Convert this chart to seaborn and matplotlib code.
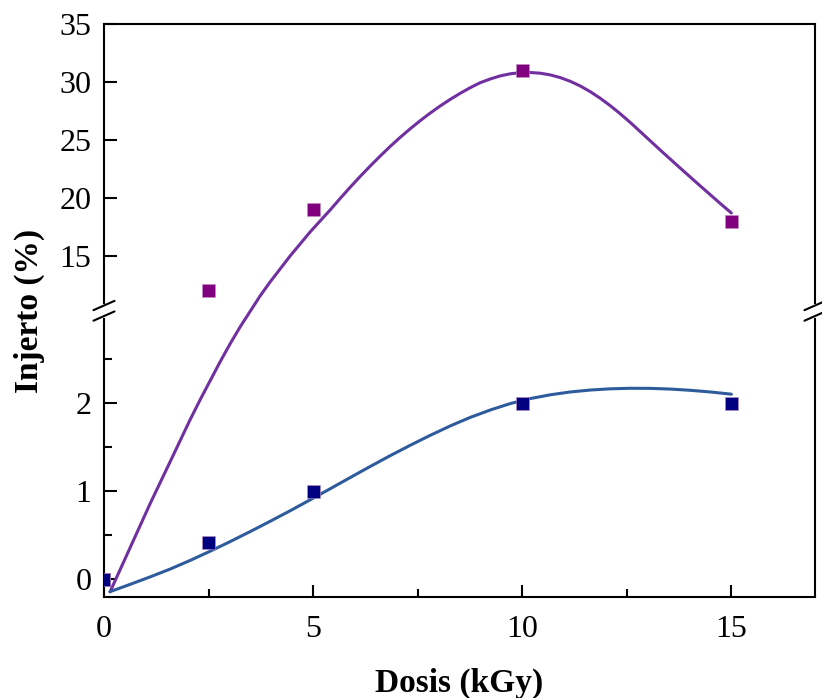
import numpy as np
import pandas as pd
import matplotlib
matplotlib.use("Agg")
import matplotlib.pyplot as plt
import seaborn as sns

# measured points
dose = [0, 2.5, 5, 10, 15]
graft_purple = [0, 12, 19, 31, 18]
graft_blue = [0, 0.42, 1.0, 2.0, 2.0]

# fitted curves
curve_purple_x = [0.144, 0.383, 0.622, 0.861, 1.100, 1.340, 1.579, 1.818, 2.057, 2.297, 2.536,
                  2.775, 3.014, 3.254, 3.732, 3.971, 4.211, 4.450, 4.689, 4.928, 5.167, 5.407,
                  5.646, 5.885, 6.124, 6.364, 6.603, 6.842, 7.081, 7.321, 7.560, 7.799, 8.038,
                  8.278, 8.517, 8.756, 8.995, 9.234, 9.474, 9.713, 9.952, 10.191, 10.431, 10.670,
                  10.909, 11.148, 11.388, 11.627, 11.866, 12.105, 12.344, 12.584, 12.823, 13.062,
                  13.301, 13.541, 13.780, 14.019, 14.258, 14.498, 14.737, 15.0]
curve_purple_y = [-0.142, 0.108, 0.358, 0.608, 0.858, 1.097, 1.335, 1.574, 1.813, 2.040, 2.256,
                  2.472, 2.676, 2.869, 11.552, 12.759, 13.879, 15.000, 16.034, 17.069, 18.017,
                  18.966, 19.957, 20.922, 21.853, 22.750, 23.612, 24.440, 25.224, 25.966, 26.664,
                  27.319, 27.931, 28.500, 29.026, 29.509, 29.940, 30.259, 30.526, 30.707, 30.802,
                  30.819, 30.759, 30.612, 30.379, 30.060, 29.655, 29.164, 28.595, 27.957, 27.259,
                  26.509, 25.716, 24.922, 24.129, 23.345, 22.569, 21.802, 21.034, 20.276, 19.517,
                  18.707]
curve_blue_x = [0.144, 0.622, 1.100, 1.579, 2.057, 2.536, 3.014, 3.493, 3.971, 4.450, 4.928, 5.407,
                5.885, 6.364, 6.842, 7.321, 7.799, 8.278, 8.756, 9.234, 9.713, 10.191, 10.670,
                11.148, 11.627, 12.105, 12.584, 13.062, 13.541, 14.019, 14.498, 15.0]
curve_blue_y = [-0.139, -0.057, 0.028, 0.117, 0.215, 0.320, 0.429, 0.543, 0.660, 0.780, 0.904,
                1.030, 1.157, 1.283, 1.406, 1.524, 1.637, 1.744, 1.841, 1.925, 1.998, 2.055,
                2.098, 2.130, 2.152, 2.166, 2.172, 2.171, 2.163, 2.149, 2.130, 2.105]

pts = pd.DataFrame({"Dosis": dose * 2,
                    "Injerto": graft_purple + graft_blue,
                    "serie": ["p"] * 5 + ["b"] * 5})
fit_p = pd.DataFrame({"Dosis": curve_purple_x, "Injerto": curve_purple_y})
fit_b = pd.DataFrame({"Dosis": curve_blue_x, "Injerto": curve_blue_y})

# broken y axis: 0..3 stretched, 10..35 compressed
L, U = 3.05, 10.26
k = 11.6 / 88
eps = 1e-4
Lt = L + (U - L) * eps


def fwd(y):
    y = np.asarray(y, dtype=float)
    return np.where(y <= L, y, np.where(y >= U, Lt + (y - U) * k, L + (y - L) * eps))


def inv(d):
    d = np.asarray(d, dtype=float)
    return np.where(d <= L, d, np.where(d >= Lt, U + (d - Lt) / k, L + (d - L) / eps))


sns.set_style("ticks", {"axes.edgecolor": "black", "text.color": "black",
                        "axes.labelcolor": "black", "xtick.color": "black",
                        "ytick.color": "black"})
plt.rcParams["font.family"] = ["Liberation Serif", "DejaVu Serif"]

fig = plt.figure(figsize=(8.22, 6.98), dpi=100)
ax = fig.add_axes([104 / 822, 1 - 597 / 698, 711 / 822, 573 / 698])
ax.set_yscale("function", functions=(fwd, inv))

sns.lineplot(data=fit_p, x="Dosis", y="Injerto", sort=False, estimator=None,
             color="#7030A0", lw=2.2, ax=ax)
sns.lineplot(data=fit_b, x="Dosis", y="Injerto", sort=False, estimator=None,
             color="#2E5B9C", lw=2.2, ax=ax)
sns.scatterplot(data=pts, x="Dosis", y="Injerto", hue="serie",
                palette={"p": "#800080", "b": "#000080"}, marker="s", s=85,
                linewidth=0.4, edgecolor="#C090C0", legend=False, ax=ax, zorder=3)

ax.set_xlim(0, 17)
ax.set_ylim(-0.2, 35)
ax.set_xticks([0, 5, 10, 15])
ax.set_xticks([2.5, 7.5, 12.5], minor=True)
ax.set_yticks([0, 1, 2, 15, 20, 25, 30, 35])
ax.set_yticks([0.5, 1.5, 2.5], minor=True)
ax.tick_params(which="both", direction="in", labelsize=23, width=1.5,
               top=False, right=False)
ax.tick_params(which="major", length=9)
ax.tick_params(which="minor", length=5.5)
ax.tick_params(axis="x", pad=13)
ax.tick_params(axis="y", pad=9)
for s in ax.spines.values():
    s.set_linewidth(1.5)

ax.set_xlabel("Dosis (kGy)", fontsize=24, fontweight="bold")
ax.set_ylabel("Injerto (%)", fontsize=24, fontweight="bold")
ax.xaxis.set_label_coords(0.5, -0.123)
ax.yaxis.set_label_coords(-0.083, 0.5)

# break marks on both vertical spines
yb = 0.4995
dx, dy, gap = 0.0148, 0.0081, 0.0092
for xs in (0, 1):
    ax.plot([xs, xs], [yb - gap, yb + gap], transform=ax.transAxes, color="white",
            lw=3, clip_on=False, zorder=5)
    for off in (-gap, gap):
        ax.plot([xs - dx, xs + dx], [yb + off - dy, yb + off + dy], transform=ax.transAxes,
                color="black", lw=1.5, clip_on=False, zorder=6)

fig.savefig("out.png", dpi=100)
